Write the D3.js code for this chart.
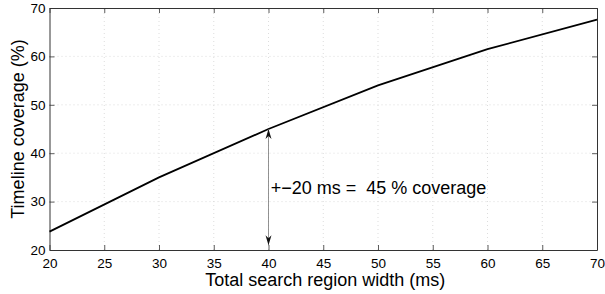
<!DOCTYPE html>
<html>
<head>
<meta charset="utf-8">
<script src="https://cdn.jsdelivr.net/npm/d3@7"></script>
<style>
  body { margin: 0; background: #fff; }
  svg { display: block; font-family: "Liberation Sans", Arial, sans-serif; }
</style>
</head>
<body>
<svg id="chart"></svg>
<script>
// search region width (ms) vs timeline coverage (%)
const widths = [20, 30, 40, 50, 60, 70];
const coverage = [23.8, 35.0, 45.0, 54.0, 61.5, 67.6];

const xTicks = [20, 25, 30, 35, 40, 45, 50, 55, 60, 65, 70];
const yTicks = [20, 30, 40, 50, 60, 70];

// annotation: arrow at 40 ms from the curve down to the axis
const arrowX = [40, 40];
const arrowY = [45.0, 21.0];
const noteText = '+\u221220 ms =  45 % coverage';
const notePos = [40.2, 31.6];

const width = 605;
const height = 294;
const margin = { top: 8, right: 8, bottom: 44, left: 49.5 };

const svg = d3.select('#chart')
    .attr('width', width)
    .attr('height', height);

const x = d3.scaleLinear()
    .domain([20, 70])
    .range([margin.left, width - margin.right]);

const y = d3.scaleLinear()
    .domain([20, 70])
    .range([height - margin.bottom, margin.top]);

const x0 = x.range()[0], x1 = x.range()[1];
const y0 = y.range()[0], y1 = y.range()[1];

// dotted grid
const grid = svg.append('g')
    .attr('stroke', '#cfcfcf')
    .attr('stroke-width', 0.7)
    .attr('stroke-dasharray', '1,3');

grid.selectAll('.vg')
    .data(xTicks.slice(1, -1))
    .enter().append('line')
    .attr('x1', d => x(d)).attr('x2', d => x(d))
    .attr('y1', y0).attr('y2', y1);

grid.selectAll('.hg')
    .data(yTicks.slice(1, -1))
    .enter().append('line')
    .attr('x1', x0).attr('x2', x1)
    .attr('y1', d => y(d)).attr('y2', d => y(d));

// axes (inward ticks, MATLAB style box)
const tickLen = 5;
const axisColor = '#333';

const axBottom = svg.append('g')
    .attr('transform', `translate(0,${y0})`)
    .call(d3.axisBottom(x).tickValues(xTicks).tickSizeInner(-tickLen).tickSizeOuter(0).tickPadding(8));

const axLeft = svg.append('g')
    .attr('transform', `translate(${x0},0)`)
    .call(d3.axisLeft(y).tickValues(yTicks).tickSizeInner(-tickLen).tickSizeOuter(0).tickPadding(4));

const axTop = svg.append('g')
    .attr('transform', `translate(0,${y1})`)
    .call(d3.axisTop(x).tickValues(xTicks).tickSizeInner(-tickLen).tickSizeOuter(0).tickFormat(''));

const axRight = svg.append('g')
    .attr('transform', `translate(${x1},0)`)
    .call(d3.axisRight(y).tickValues(yTicks).tickSizeInner(-tickLen).tickSizeOuter(0).tickFormat(''));

[axBottom, axLeft, axTop, axRight].forEach(g => {
    g.select('.domain').attr('stroke', axisColor).attr('stroke-width', 1);
    g.selectAll('.tick line').attr('stroke', axisColor).attr('stroke-width', 0.8);
    g.selectAll('.tick text')
        .attr('fill', '#000')
        .attr('font-size', '13.5px')
        .attr('font-family', '"Liberation Sans", Arial, sans-serif');
});

// data line
const line = d3.line()
    .x(d => x(d[0]))
    .y(d => y(d[1]));

svg.append('path')
    .datum(widths.map((w, i) => [w, coverage[i]]))
    .attr('fill', 'none')
    .attr('stroke', '#000')
    .attr('stroke-width', 1.8)
    .attr('d', line);

// double arrow
const defs = svg.append('defs');
['start', 'end'].forEach(k => {
    defs.append('marker')
        .attr('id', 'arrow-' + k)
        .attr('viewBox', '0 0 10 10')
        .attr('refX', 10).attr('refY', 5)
        .attr('markerWidth', 10).attr('markerHeight', 10)
        .attr('markerUnits', 'userSpaceOnUse')
        .attr('orient', k === 'start' ? 'auto-start-reverse' : 'auto')
        .append('path')
        .attr('d', 'M0,2 L10,5 L0,8 L3,5 Z')
        .attr('fill', '#111');
});

svg.append('line')
    .attr('x1', x(arrowX[0])).attr('y1', y(arrowY[0]))
    .attr('x2', x(arrowX[1])).attr('y2', y(arrowY[1]))
    .attr('stroke', '#777')
    .attr('stroke-width', 0.8)
    .attr('marker-start', 'url(#arrow-start)')
    .attr('marker-end', 'url(#arrow-end)');

svg.append('text')
    .attr('x', x(notePos[0]))
    .attr('y', y(notePos[1]))
    .attr('font-size', '18px')
    .attr('fill', '#000')
    .style('white-space', 'pre')
    .text(noteText);

// axis labels
svg.append('text')
    .attr('x', (x0 + x1) / 2 + 2)
    .attr('y', 286)
    .attr('text-anchor', 'middle')
    .attr('font-size', '18px')
    .attr('fill', '#000')
    .text('Total search region width (ms)');

svg.append('text')
    .attr('transform', `translate(24,${(y0 + y1) / 2}) rotate(-90)`)
    .attr('text-anchor', 'middle')
    .attr('font-size', '18px')
    .attr('fill', '#000')
    .text('Timeline coverage (%)');
</script>
</body>
</html>
